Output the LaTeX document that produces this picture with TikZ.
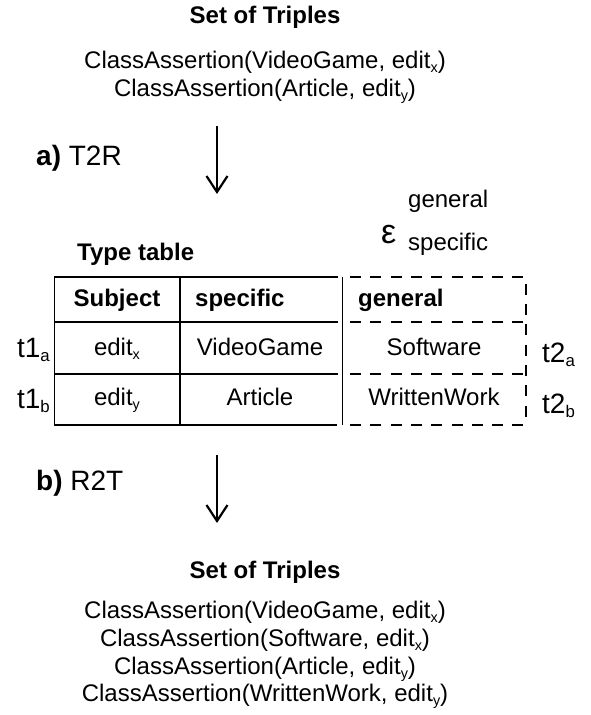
\documentclass[tikz,border=0pt]{standalone}
\usepackage{fontspec}
\setmainfont{Liberation Sans}
\usetikzlibrary{positioning,arrows.meta}
\makeatletter
\newcommand{\idx}[1]{\raisebox{-0.17em}{\fontsize{\strip@pt\dimexpr0.6\dimexpr\f@size pt\relax\relax}{0}\selectfont #1}}
\makeatother
\begin{document}
\begin{tikzpicture}[x=1pt, y=-1pt,
    txt/.style={font=\fontsize{24}{28}\selectfont, inner sep=0pt, anchor=base},
    hd/.style={font=\fontsize{24}{28}\selectfont\bfseries, inner sep=0pt, anchor=base},
    lbl/.style={font=\fontsize{28}{32}\selectfont, inner sep=0pt},
    flow/.style={line width=2.2pt, -{Straight Barb[length=16pt, width=21pt, line width=2.2pt]}},
    solidline/.style={line width=1.5pt},
    dashline/.style={line width=1.5pt, dash pattern=on 11pt off 9.3pt}]
  \useasboundingbox (0,0) rectangle (591,715);

  % input triples
  \node[hd]  (intitle) at (265, 23.5) {Set of Triples};
  \node[txt] (in1) at (265, 68) {ClassAssertion(VideoGame, edit\idx{x})};
  \node[txt] (in2) at (265, 96.5) {ClassAssertion(Article, edit\idx{y})};

  % step a
  \node[lbl, anchor=base west] (stepa) at (36, 165) {\textbf{a)} T2R};
  \coordinate (a1) at (217, 126);
  \coordinate (a2) at (217, 194);
  \draw[flow] (a1) -- (a2);

  % epsilon with its two columns
  \node[font=\fontsize{34}{38}\selectfont, inner sep=0pt, anchor=base west] (eps) at (381, 243) {ε};
  \node[txt, anchor=base west] (epsgen) at (408, 207) {general};
  \node[txt, anchor=base west] (epsspec) at (408, 250) {specific};

  % type table
  \node[hd, anchor=base west] (ttitle) at (77, 260) {Type table};
  \draw[solidline] (338,277) -- (54.3,277) -- (54.3,425) -- (337,425);
  \draw[solidline] (54.3,322) -- (338,322);
  \draw[solidline] (54.3,374) -- (338,374);
  \draw[solidline] (180,277) -- (180,425);
  \draw[solidline] (342.7,277) -- (342.7,425);
  \draw[dashline] (350,277) -- (526,277) -- (526,425);
  \draw[dashline] (350,322) -- (524,322);
  \draw[dashline] (350,374) -- (524,374);
  \draw[dashline] (350,425) -- (524,425);

  \node[hd] (hsub) at (117, 306) {Subject};
  \node[hd, anchor=base west] (hspec) at (195, 306) {specific};
  \node[hd, anchor=base west] (hgen) at (358, 306) {general};

  \node[txt] (c11) at (117, 355) {edit\idx{x}};
  \node[txt] (c12) at (260, 355) {VideoGame};
  \node[txt] (c13) at (434, 355) {Software};
  \node[txt] (c21) at (117, 405) {edit\idx{y}};
  \node[txt] (c22) at (260, 405) {Article};
  \node[txt] (c23) at (434, 405) {WrittenWork};

  \node[lbl, anchor=base east] (t1a) at (50, 357) {t1\idx{a}};
  \node[lbl, anchor=base east] (t1b) at (50, 408) {t1\idx{b}};
  \node[lbl, anchor=base west] (t2a) at (542, 362) {t2\idx{a}};
  \node[lbl, anchor=base west] (t2b) at (542, 413) {t2\idx{b}};

  % step b
  \node[lbl, anchor=base west] (stepb) at (36, 490) {\textbf{b)} R2T};
  \coordinate (b1) at (217, 455);
  \coordinate (b2) at (217, 523);
  \draw[flow] (b1) -- (b2);

  % output triples
  \node[hd]  (outtitle) at (265, 578.5) {Set of Triples};
  \node[txt] (out1) at (265, 618) {ClassAssertion(VideoGame, edit\idx{x})};
  \node[txt] (out2) at (265, 646) {ClassAssertion(Software, edit\idx{x})};
  \node[txt] (out3) at (265, 674) {ClassAssertion(Article, edit\idx{y})};
  \node[txt] (out4) at (265, 701.5) {ClassAssertion(WrittenWork, edit\idx{y})};
\end{tikzpicture}
\end{document}
